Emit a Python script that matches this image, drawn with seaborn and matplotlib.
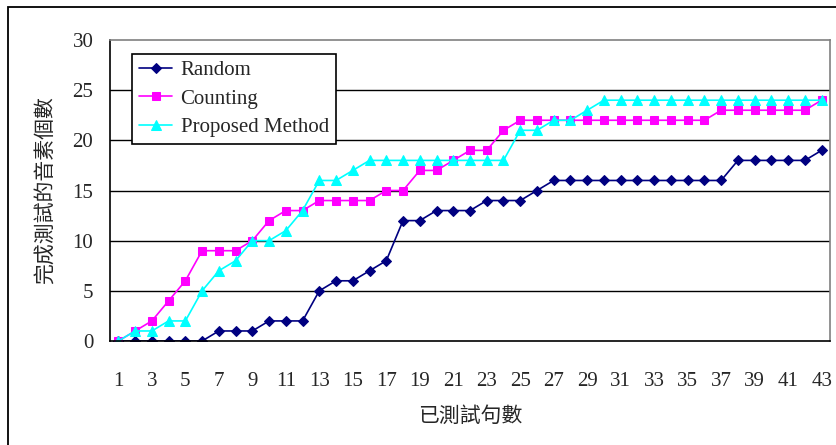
import numpy as np
import pandas as pd
import matplotlib
matplotlib.use("Agg")
import matplotlib.pyplot as plt
import seaborn as sns

# === DATA ===
sentences = list(range(1, 44))
random_vals = [0, 0, 0, 0, 0, 0, 1, 1, 1, 2, 2, 2, 5, 6, 6, 7, 8, 12, 12, 13, 13, 13,
               14, 14, 14, 15, 16, 16, 16, 16, 16, 16, 16, 16, 16, 16, 16, 18, 18, 18,
               18, 18, 19]
counting_vals = [0, 1, 2, 4, 6, 9, 9, 9, 10, 12, 13, 13, 14, 14, 14, 14, 15, 15, 17, 17,
                 18, 19, 19, 21, 22, 22, 22, 22, 22, 22, 22, 22, 22, 22, 22, 22, 23, 23,
                 23, 23, 23, 23, 24]
proposed_vals = [0, 1, 1, 2, 2, 5, 7, 8, 10, 10, 11, 13, 16, 16, 17, 18, 18, 18, 18, 18,
                 18, 18, 18, 18, 21, 21, 22, 22, 23, 24, 24, 24, 24, 24, 24, 24, 24, 24,
                 24, 24, 24, 24, 24]
x_tick_labels = [str(v) for v in range(1, 44, 2)]
y_ticks = [0, 5, 10, 15, 20, 25, 30]

df = pd.DataFrame({
    "sent": sentences,
    "Random": random_vals,
    "Counting": counting_vals,
    "Proposed Method": proposed_vals,
})

# === STYLE ===
sns.set_style("white")
plt.rcParams["font.family"] = ["Liberation Serif", "Noto Sans CJK TC", "DejaVu Sans"]
cjk = ["Noto Sans CJK TC", "DejaVu Sans"]

series = [
    ("Random", "#000080", "D", 5),
    ("Counting", "#FF00FF", "s", 5.5),
    ("Proposed Method", "#00FFFF", "^", 6.5),
]

fig = plt.figure(figsize=(8.36, 4.45), dpi=100)
ax = fig.add_axes([110 / 836, 1 - 341 / 445, 720 / 836, 301 / 445])

for name, color, marker, ms in series:
    sns.lineplot(data=df, x="sent", y=name, ax=ax, color=color, marker=marker,
                 markersize=ms, markeredgecolor=color, linewidth=1.2, label=name)

ax.set_xlim(0.5, 43.5)
ax.set_ylim(0, 30)
ax.set_yticks(y_ticks)
ax.set_xticks(range(1, 44, 2))
ax.set_xticklabels(x_tick_labels)
ax.set_xticks(np.arange(0.5, 44, 1), minor=True)
ax.tick_params(axis="x", which="major", length=0, pad=22, labelsize=15)
ax.tick_params(axis="x", which="minor", length=5, direction="in", width=1, color="black")
ax.tick_params(axis="y", length=4, direction="out", width=1, color="black", pad=8, labelsize=15)

for y in y_ticks[1:-1]:
    ax.axhline(y, color="black", linewidth=1, zorder=0)

ax.spines["left"].set_color("black")
ax.spines["bottom"].set_color("black")
ax.spines["top"].set_color("#808080")
ax.spines["right"].set_color("#808080")
for s in ax.spines.values():
    s.set_linewidth(1.2)

ax.set_xlabel("已測試句數", family=cjk, fontsize=15, labelpad=10)
ax.set_ylabel("完成測試的音素個數", family=cjk, fontsize=15, labelpad=12)

leg = ax.legend(loc="upper left", bbox_to_anchor=(0.03, 0.955), fontsize=15,
                frameon=True, fancybox=False, edgecolor="black", framealpha=1,
                borderpad=0.35, labelspacing=0.42, handlelength=1.6, handletextpad=0.4,
                borderaxespad=0)
leg.get_frame().set_linewidth(1.2)

# outer chart-area frame
fig.add_artist(plt.Rectangle((8 / 836, -0.05), 1.2, 1.05 - 7 / 445,
                             transform=fig.transFigure, fill=False,
                             edgecolor="black", linewidth=1.3))

fig.savefig("out.png", dpi=100)
